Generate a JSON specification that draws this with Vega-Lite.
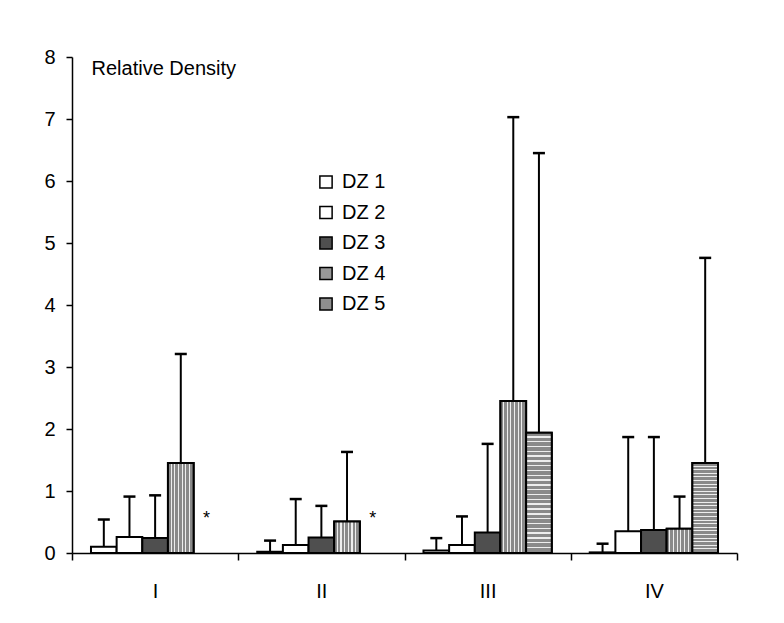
{
  "$schema": "https://vega.github.io/schema/vega-lite/v6.json",
  "width": 665,
  "height": 496,
  "autosize": "none",
  "padding": {"left": 72, "top": 57, "right": 47, "bottom": 70},
  "background": "white",
  "config": {
    "font": "Liberation Sans",
    "view": {"stroke": null}
  },
  "data": {
    "values": [
      {"group": "I", "dz": "DZ 1", "value": 0.10, "upper": 0.54},
      {"group": "I", "dz": "DZ 2", "value": 0.26, "upper": 0.91},
      {"group": "I", "dz": "DZ 3", "value": 0.24, "upper": 0.93},
      {"group": "I", "dz": "DZ 4", "value": 1.45, "upper": 3.21},
      {"group": "I", "dz": "DZ 5", "value": null, "upper": null, "note": "*"},
      {"group": "II", "dz": "DZ 1", "value": 0.02, "upper": 0.20},
      {"group": "II", "dz": "DZ 2", "value": 0.13, "upper": 0.87},
      {"group": "II", "dz": "DZ 3", "value": 0.25, "upper": 0.76},
      {"group": "II", "dz": "DZ 4", "value": 0.51, "upper": 1.63},
      {"group": "II", "dz": "DZ 5", "value": null, "upper": null, "note": "*"},
      {"group": "III", "dz": "DZ 1", "value": 0.04, "upper": 0.24},
      {"group": "III", "dz": "DZ 2", "value": 0.13, "upper": 0.59},
      {"group": "III", "dz": "DZ 3", "value": 0.33, "upper": 1.76},
      {"group": "III", "dz": "DZ 4", "value": 2.45, "upper": 7.03},
      {"group": "III", "dz": "DZ 5", "value": 1.94, "upper": 6.45},
      {"group": "IV", "dz": "DZ 1", "value": 0.01, "upper": 0.15},
      {"group": "IV", "dz": "DZ 2", "value": 0.35, "upper": 1.87},
      {"group": "IV", "dz": "DZ 3", "value": 0.37, "upper": 1.87},
      {"group": "IV", "dz": "DZ 4", "value": 0.39, "upper": 0.91},
      {"group": "IV", "dz": "DZ 5", "value": 1.45, "upper": 4.76}
    ]
  },
  "encoding": {
    "x": {
      "field": "group",
      "type": "nominal",
      "sort": ["I", "II", "III", "IV"],
      "scale": {"paddingInner": 0, "paddingOuter": 0},
      "axis": {
        "title": null,
        "labelAngle": 0,
        "labelFontSize": 20,
        "labelColor": "black",
        "labelPadding": 21,
        "tickBand": "extent",
        "tickSize": 7,
        "tickColor": "black",
        "tickWidth": 1.5,
        "domainColor": "black",
        "domainWidth": 1.5
      }
    },
    "xOffset": {
      "field": "dz",
      "type": "nominal",
      "sort": ["DZ 1", "DZ 2", "DZ 3", "DZ 4", "DZ 5"],
      "scale": {"paddingInner": 0, "paddingOuter": 0.74}
    }
  },
  "layer": [
    {
      "mark": {"type": "bar", "stroke": "black", "strokeWidth": 2, "opacity": 1},
      "encoding": {
        "y": {
          "field": "value",
          "type": "quantitative",
          "scale": {"domain": [0, 8], "nice": false},
          "axis": {
            "values": [0, 1, 2, 3, 4, 5, 6, 7, 8],
            "format": "d",
            "grid": false,
            "labelFontSize": 20,
            "labelColor": "black",
            "labelPadding": 11,
            "tickSize": 6,
            "tickColor": "black",
            "tickWidth": 1.5,
            "domainColor": "black",
            "domainWidth": 1.5,
            "title": "Relative Density",
            "titleAngle": 0,
            "titleX": 19,
            "titleY": 17,
            "titleAlign": "left",
            "titleBaseline": "alphabetic",
            "titleFontSize": 20,
            "titleFontWeight": "normal",
            "titleColor": "black"
          }
        },
        "color": {
          "field": "dz",
          "type": "nominal",
          "scale": {
            "domain": ["DZ 1", "DZ 2", "DZ 3", "DZ 4", "DZ 5"],
            "range": ["#ffffff", "#ffffff", "#4f4f4f", "#999999", "#8f8f8f"]
          },
          "legend": {
            "title": null,
            "orient": "none",
            "legendX": 244,
            "legendY": 115,
            "symbolType": "square",
            "symbolSize": 150,
            "symbolStrokeColor": "black",
            "symbolStrokeWidth": 1.5,
            "symbolOpacity": 1,
            "labelFontSize": 20,
            "labelColor": "black",
            "labelOffset": 6,
            "rowPadding": 10.5
          }
        }
      }
    },
    {
      "transform": [{"filter": "datum.dz == 'DZ 4' && datum.value != null"}],
      "mark": {"type": "bar", "stroke": "black", "strokeWidth": 2, "opacity": 1,
        "color": {"gradient": "linear", "x1": 0, "y1": 0, "x2": 1, "y2": 0, "stops": [
          {"offset": 0, "color": "#8a8a8a"}, {"offset": 0.10, "color": "#8a8a8a"}, {"offset": 0.10, "color": "#eeeeee"}, {"offset": 0.143, "color": "#eeeeee"},
          {"offset": 0.143, "color": "#8a8a8a"}, {"offset": 0.243, "color": "#8a8a8a"}, {"offset": 0.243, "color": "#eeeeee"}, {"offset": 0.286, "color": "#eeeeee"},
          {"offset": 0.286, "color": "#8a8a8a"}, {"offset": 0.386, "color": "#8a8a8a"}, {"offset": 0.386, "color": "#eeeeee"}, {"offset": 0.429, "color": "#eeeeee"},
          {"offset": 0.429, "color": "#8a8a8a"}, {"offset": 0.529, "color": "#8a8a8a"}, {"offset": 0.529, "color": "#eeeeee"}, {"offset": 0.571, "color": "#eeeeee"},
          {"offset": 0.571, "color": "#8a8a8a"}, {"offset": 0.671, "color": "#8a8a8a"}, {"offset": 0.671, "color": "#eeeeee"}, {"offset": 0.714, "color": "#eeeeee"},
          {"offset": 0.714, "color": "#8a8a8a"}, {"offset": 0.814, "color": "#8a8a8a"}, {"offset": 0.814, "color": "#eeeeee"}, {"offset": 0.857, "color": "#eeeeee"},
          {"offset": 0.857, "color": "#8a8a8a"}, {"offset": 1, "color": "#8a8a8a"}
        ]}
      },
      "encoding": {
        "y": {"field": "value", "type": "quantitative"},
        "stroke": {"value": "black"}
      }
    },
    {
      "transform": [{"filter": "datum.dz == 'DZ 5' && datum.value != null"}],
      "mark": {"type": "bar", "stroke": "black", "strokeWidth": 2, "opacity": 1,
        "color": {"gradient": "linear", "x1": 0, "y1": 0, "x2": 0, "y2": 1, "stops": [
          {"offset": 0, "color": "#8a8a8a"}, {"offset": 0.028, "color": "#8a8a8a"}, {"offset": 0.028, "color": "#eeeeee"}, {"offset": 0.04, "color": "#eeeeee"},
          {"offset": 0.04, "color": "#8a8a8a"}, {"offset": 0.068, "color": "#8a8a8a"}, {"offset": 0.068, "color": "#eeeeee"}, {"offset": 0.08, "color": "#eeeeee"},
          {"offset": 0.08, "color": "#8a8a8a"}, {"offset": 0.108, "color": "#8a8a8a"}, {"offset": 0.108, "color": "#eeeeee"}, {"offset": 0.12, "color": "#eeeeee"},
          {"offset": 0.12, "color": "#8a8a8a"}, {"offset": 0.148, "color": "#8a8a8a"}, {"offset": 0.148, "color": "#eeeeee"}, {"offset": 0.16, "color": "#eeeeee"},
          {"offset": 0.16, "color": "#8a8a8a"}, {"offset": 0.188, "color": "#8a8a8a"}, {"offset": 0.188, "color": "#eeeeee"}, {"offset": 0.2, "color": "#eeeeee"},
          {"offset": 0.2, "color": "#8a8a8a"}, {"offset": 0.228, "color": "#8a8a8a"}, {"offset": 0.228, "color": "#eeeeee"}, {"offset": 0.24, "color": "#eeeeee"},
          {"offset": 0.24, "color": "#8a8a8a"}, {"offset": 0.268, "color": "#8a8a8a"}, {"offset": 0.268, "color": "#eeeeee"}, {"offset": 0.28, "color": "#eeeeee"},
          {"offset": 0.28, "color": "#8a8a8a"}, {"offset": 0.308, "color": "#8a8a8a"}, {"offset": 0.308, "color": "#eeeeee"}, {"offset": 0.32, "color": "#eeeeee"},
          {"offset": 0.32, "color": "#8a8a8a"}, {"offset": 0.348, "color": "#8a8a8a"}, {"offset": 0.348, "color": "#eeeeee"}, {"offset": 0.36, "color": "#eeeeee"},
          {"offset": 0.36, "color": "#8a8a8a"}, {"offset": 0.388, "color": "#8a8a8a"}, {"offset": 0.388, "color": "#eeeeee"}, {"offset": 0.4, "color": "#eeeeee"},
          {"offset": 0.4, "color": "#8a8a8a"}, {"offset": 0.428, "color": "#8a8a8a"}, {"offset": 0.428, "color": "#eeeeee"}, {"offset": 0.44, "color": "#eeeeee"},
          {"offset": 0.44, "color": "#8a8a8a"}, {"offset": 0.468, "color": "#8a8a8a"}, {"offset": 0.468, "color": "#eeeeee"}, {"offset": 0.48, "color": "#eeeeee"},
          {"offset": 0.48, "color": "#8a8a8a"}, {"offset": 0.508, "color": "#8a8a8a"}, {"offset": 0.508, "color": "#eeeeee"}, {"offset": 0.52, "color": "#eeeeee"},
          {"offset": 0.52, "color": "#8a8a8a"}, {"offset": 0.548, "color": "#8a8a8a"}, {"offset": 0.548, "color": "#eeeeee"}, {"offset": 0.56, "color": "#eeeeee"},
          {"offset": 0.56, "color": "#8a8a8a"}, {"offset": 0.588, "color": "#8a8a8a"}, {"offset": 0.588, "color": "#eeeeee"}, {"offset": 0.6, "color": "#eeeeee"},
          {"offset": 0.6, "color": "#8a8a8a"}, {"offset": 0.628, "color": "#8a8a8a"}, {"offset": 0.628, "color": "#eeeeee"}, {"offset": 0.64, "color": "#eeeeee"},
          {"offset": 0.64, "color": "#8a8a8a"}, {"offset": 0.668, "color": "#8a8a8a"}, {"offset": 0.668, "color": "#eeeeee"}, {"offset": 0.68, "color": "#eeeeee"},
          {"offset": 0.68, "color": "#8a8a8a"}, {"offset": 0.708, "color": "#8a8a8a"}, {"offset": 0.708, "color": "#eeeeee"}, {"offset": 0.72, "color": "#eeeeee"},
          {"offset": 0.72, "color": "#8a8a8a"}, {"offset": 0.748, "color": "#8a8a8a"}, {"offset": 0.748, "color": "#eeeeee"}, {"offset": 0.76, "color": "#eeeeee"},
          {"offset": 0.76, "color": "#8a8a8a"}, {"offset": 0.788, "color": "#8a8a8a"}, {"offset": 0.788, "color": "#eeeeee"}, {"offset": 0.8, "color": "#eeeeee"},
          {"offset": 0.8, "color": "#8a8a8a"}, {"offset": 0.828, "color": "#8a8a8a"}, {"offset": 0.828, "color": "#eeeeee"}, {"offset": 0.84, "color": "#eeeeee"},
          {"offset": 0.84, "color": "#8a8a8a"}, {"offset": 0.868, "color": "#8a8a8a"}, {"offset": 0.868, "color": "#eeeeee"}, {"offset": 0.88, "color": "#eeeeee"},
          {"offset": 0.88, "color": "#8a8a8a"}, {"offset": 0.908, "color": "#8a8a8a"}, {"offset": 0.908, "color": "#eeeeee"}, {"offset": 0.92, "color": "#eeeeee"},
          {"offset": 0.92, "color": "#8a8a8a"}, {"offset": 0.948, "color": "#8a8a8a"}, {"offset": 0.948, "color": "#eeeeee"}, {"offset": 0.96, "color": "#eeeeee"},
          {"offset": 0.96, "color": "#8a8a8a"}, {"offset": 0.988, "color": "#8a8a8a"}, {"offset": 0.988, "color": "#eeeeee"}, {"offset": 1, "color": "#eeeeee"}
        ]}
      },
      "encoding": {
        "y": {"field": "value", "type": "quantitative"},
        "stroke": {"value": "black"}
      }
    },
    {
      "mark": {"type": "rule", "color": "black", "strokeWidth": 2},
      "encoding": {
        "y": {"field": "value", "type": "quantitative"},
        "y2": {"field": "upper"}
      }
    },
    {
      "mark": {"type": "tick", "color": "black", "thickness": 2.5, "size": 12, "orient": "horizontal", "opacity": 1},
      "encoding": {
        "y": {"field": "upper", "type": "quantitative"}
      }
    },
    {
      "transform": [{"filter": "datum.note != null"}],
      "mark": {"type": "text", "fontSize": 18, "color": "black", "baseline": "middle"},
      "encoding": {
        "y": {"datum": 0.55},
        "text": {"field": "note"}
      }
    }
  ]
}
